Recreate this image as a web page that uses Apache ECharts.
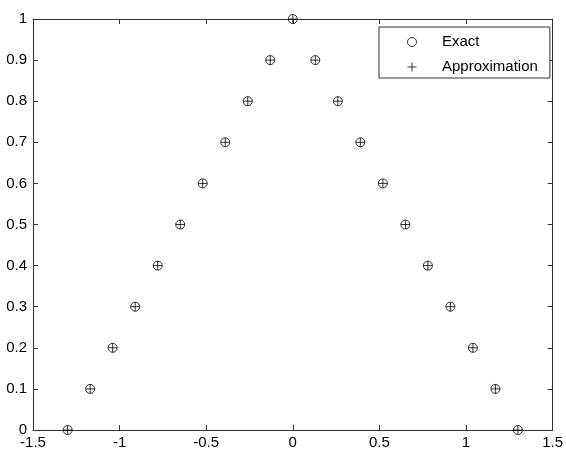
<!DOCTYPE html>
<html>
<head>
<meta charset="utf-8">
<script src="https://cdn.jsdelivr.net/npm/echarts@6/dist/echarts.min.js"></script>
<style>
  html, body { margin: 0; padding: 0; background: #fff; }
  #main { width: 566px; height: 451px; }
</style>
</head>
<body>
<div id="main"></div>
<script>
// 读图得到的数据点
const xValues = [-1.3, -1.17, -1.04, -0.91, -0.78, -0.65, -0.52, -0.39, -0.26, -0.13, 0,
  0.13, 0.26, 0.39, 0.52, 0.65, 0.78, 0.91, 1.04, 1.17, 1.3];
const exactY = [0, 0.1, 0.2, 0.3, 0.4, 0.5, 0.6, 0.7, 0.8, 0.9, 1,
  0.9, 0.8, 0.7, 0.6, 0.5, 0.4, 0.3, 0.2, 0.1, 0];
const approxY = [0, 0.1, 0.2, 0.3, 0.4, 0.5, 0.6, 0.7, 0.8, 0.9, 1,
  0.9, 0.8, 0.7, 0.6, 0.5, 0.4, 0.3, 0.2, 0.1, 0];
const seriesNames = ['Exact', 'Approximation'];

const axisColor = '#333';
const fontFamily = 'Liberation Sans, Arial, sans-serif';
const plusPath = 'path://M0,5L10,5M5,0L5,10';

function pairs(xs, ys) {
  let out = [];
  for (let i = 0; i < xs.length; i++) {
    out.push([xs[i], ys[i]]);
  }
  return out;
}

const chart = echarts.init(document.getElementById('main'), null, { renderer: 'canvas' });

function xAxisOf(pos, showLabel) {
  return {
    type: 'value',
    position: pos,
    min: -1.5,
    max: 1.5,
    interval: 0.5,
    splitLine: { show: false },
    axisLine: { show: true, onZero: false, lineStyle: { color: axisColor, width: 1 } },
    axisTick: { show: true, inside: true, length: 5, lineStyle: { color: axisColor } },
    axisLabel: { show: showLabel, color: '#000', fontSize: 15, margin: 5, fontFamily: fontFamily }
  };
}

function yAxisOf(pos, showLabel) {
  return {
    type: 'value',
    position: pos,
    min: 0,
    max: 1,
    interval: 0.1,
    splitLine: { show: false },
    axisLine: { show: true, onZero: false, lineStyle: { color: axisColor, width: 1 } },
    axisTick: { show: true, inside: true, length: 5, lineStyle: { color: axisColor } },
    axisLabel: { show: showLabel, color: '#000', fontSize: 15, margin: 6, fontFamily: fontFamily }
  };
}

chart.setOption({
  animation: false,
  backgroundColor: '#fff',
  grid: { left: 33, right: 12, top: 19, bottom: 21, containLabel: false },
  legend: {
    orient: 'vertical',
    left: 379,
    top: 27,
    padding: [7, 12, 3, 28],
    itemWidth: 50,
    itemHeight: 9,
    itemGap: 9,
    borderColor: axisColor,
    borderWidth: 1,
    backgroundColor: '#fff',
    itemStyle: { borderWidth: 1 },
    textStyle: { color: '#000', fontSize: 15, lineHeight: 16, fontFamily: fontFamily },
    data: [
      { name: seriesNames[0], icon: 'circle' },
      { name: seriesNames[1], icon: plusPath }
    ]
  },
  xAxis: [xAxisOf('bottom', true), xAxisOf('top', false)],
  yAxis: [yAxisOf('left', true), yAxisOf('right', false)],
  series: [
    {
      name: seriesNames[0],
      type: 'scatter',
      symbol: 'circle',
      symbolSize: 9,
      itemStyle: { color: 'rgba(0,0,0,0)', borderColor: '#000', borderWidth: 1 },
      data: pairs(xValues, exactY)
    },
    {
      name: seriesNames[1],
      type: 'scatter',
      symbol: plusPath,
      symbolSize: 9,
      itemStyle: { color: 'rgba(0,0,0,0)', borderColor: '#000', borderWidth: 1 },
      data: pairs(xValues, approxY)
    }
  ]
});
</script>
</body>
</html>
